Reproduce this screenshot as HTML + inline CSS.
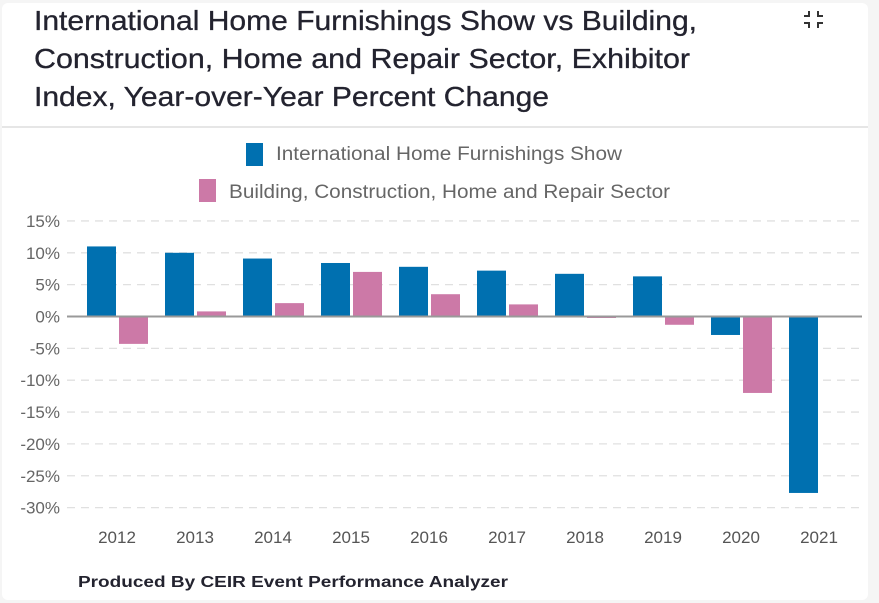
<!DOCTYPE html>
<html><head><meta charset="utf-8"><style>
body{margin:0;background:#f4f4f4;}
svg{display:block;font-family:"Liberation Sans",sans-serif;}
</style></head><body>
<svg id="chart" width="879" height="603">
<rect x="0" y="0" width="879" height="603" fill="#f5f5f5"/>
<rect x="2" y="3" width="866" height="597" rx="6" fill="#ffffff"/>
<g fill="#23232f" stroke="#23232f" stroke-width="0.3" font-size="28">
<text x="34" y="30" textLength="663" lengthAdjust="spacingAndGlyphs">International Home Furnishings Show vs Building,</text>
<text x="34" y="68" textLength="656" lengthAdjust="spacingAndGlyphs">Construction, Home and Repair Sector, Exhibitor</text>
<text x="34" y="106" textLength="515" lengthAdjust="spacingAndGlyphs">Index, Year-over-Year Percent Change</text>
</g>
<g stroke="#333" stroke-width="2" fill="none">
<path d="M487 11v5h-5M496 11v5h5M487 28v-5h-5M496 28v-5h5" transform="translate(322,0)"/>
</g>
<line x1="2" y1="127" x2="868" y2="127" stroke="#e6e6e6" stroke-width="2"/>
<g>
<rect x="246" y="143" width="17" height="23" fill="#0070b0"/>
<text x="276" y="160" font-size="19" fill="#666" textLength="346" lengthAdjust="spacingAndGlyphs">International Home Furnishings Show</text>
</g>
<g>
<rect x="199" y="179" width="17" height="23" fill="#cc79a7"/>
<text x="229" y="198" font-size="19" fill="#666" textLength="441" lengthAdjust="spacingAndGlyphs">Building, Construction, Home and Repair Sector</text>
</g>
<g id="grid"></g><g id="bars"></g><g id="axes"></g>
<text x="78" y="587" font-size="16" font-weight="bold" fill="#23232f" textLength="430" lengthAdjust="spacingAndGlyphs">Produced By CEIR Event Performance Analyzer</text>
</svg>
<script>
const categories=["2012","2013","2014","2015","2016","2017","2018","2019","2020","2021"];
const showValues=[11.0,10.0,9.1,8.4,7.8,7.2,6.7,6.3,-2.9,-27.7];
const sectorValues=[-4.3,0.8,2.1,7.0,3.5,1.9,-0.2,-1.3,-12.0,null];
const yTicks=[15,10,5,0,-5,-10,-15,-20,-25,-30];
const NS="http://www.w3.org/2000/svg";
const x0=78,band=78,bw=29;
function y(v){return 316.5-v*6.37;}
function xc(i){return x0+band*(i+0.5);}
function mk(tag,attrs,parent){const e=document.createElementNS(NS,tag);for(const k in attrs)e.setAttribute(k,attrs[k]);document.getElementById(parent).appendChild(e);return e;}
yTicks.forEach(t=>{
  if(t!==0){const l=mk('line',{x1:67,x2:862,y1:y(t),y2:y(t),stroke:'#e0e0e0','stroke-dasharray':'8,6','stroke-width':1.3},'grid');
  
  }
  const tx=mk('text',{x:60,y:y(t)+6,'text-anchor':'end','font-size':17,fill:'#666'},'axes');
  tx.textContent=t+'%';
  
  
});
categories.forEach((c,i)=>{
  const v1=showValues[i];
  const b1=mk('rect',{x:xc(i)-bw-1,y:Math.min(y(0),y(v1)),width:bw,height:Math.abs(y(v1)-y(0)),fill:'#0070b0'},'bars');
  
  
  const v2=sectorValues[i];
  if(v2!==null){const h=Math.max(1.5,Math.abs(y(v2)-y(0)));
  const b2=mk('rect',{x:xc(i)+2,y:v2>=0?y(0)-h:y(0),width:bw,height:h,fill:'#cc79a7'},'bars');
  
  }
  const tx=mk('text',{x:xc(i),y:543,'text-anchor':'middle','font-size':17,fill:'#555'},'axes');
  tx.textContent=c;
  
  
});
const z=mk('line',{x1:67,x2:862,y1:y(0),y2:y(0),stroke:'#999','stroke-width':2},'axes');


</script>
</body></html>
